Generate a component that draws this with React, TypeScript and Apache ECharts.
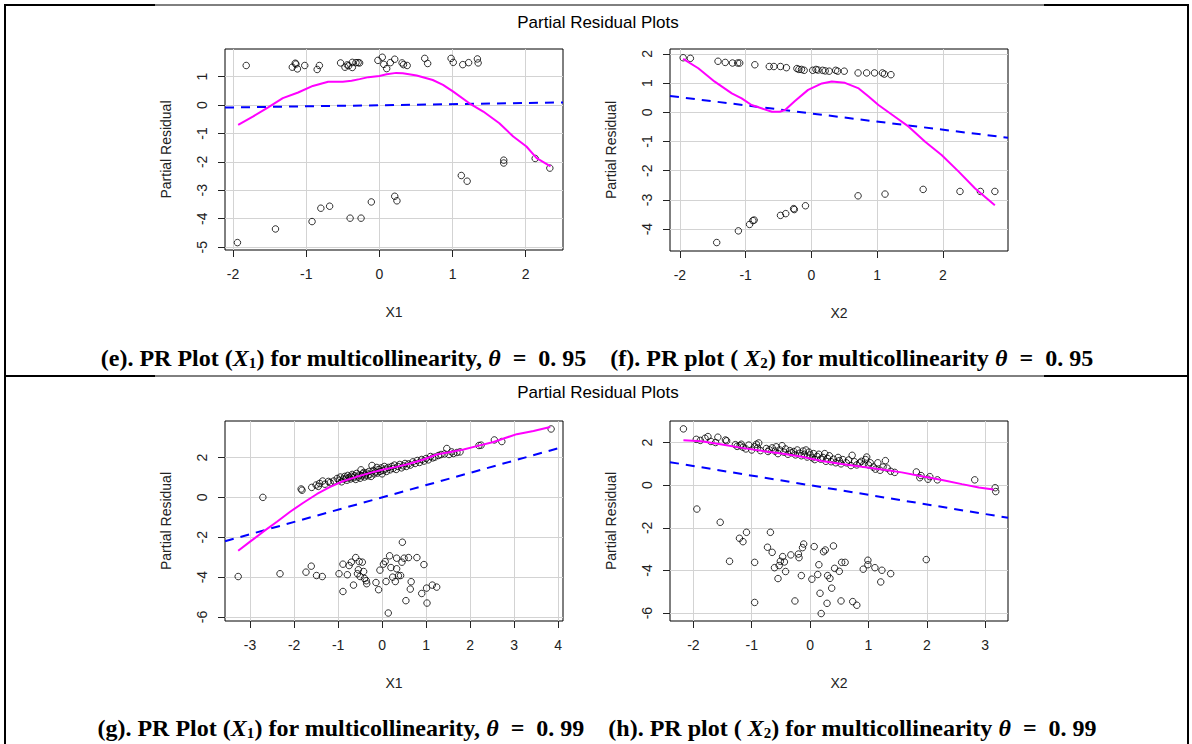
import React, { useEffect, useRef } from "react";
import * as echarts from "echarts";

// ---------- Panel (e): X1, theta = 0.95 ----------
const eXTicks = [-2, -1, 0, 1, 2];
const eYTicks = [-5, -4, -3, -2, -1, 0, 1];
const ePoints: number[][] = [
  [-1.82, 1.39], [-1.19, 1.33], [-1.15, 1.47], [-1.14, 1.44], [-1.12, 1.27], [-1.02, 1.39],
  [-0.85, 1.25], [-0.82, 1.39], [-0.53, 1.48], [-0.47, 1.33], [-0.44, 1.41], [-0.42, 1.38],
  [-0.37, 1.5], [-0.37, 1.32], [-0.32, 1.49], [-0.29, 1.49], [-0.27, 1.48], [-0.02, 1.57],
  [0.04, 1.68], [0.06, 1.43], [0.1, 1.28], [0.15, 1.49], [0.21, 1.61], [0.31, 1.48],
  [0.33, 1.42], [0.38, 1.39], [0.62, 1.64], [0.66, 1.46], [0.98, 1.64], [1.01, 1.5],
  [1.14, 1.42], [1.22, 1.49], [1.34, 1.62], [1.35, 1.48],
  [-1.94, -4.84], [-1.42, -4.36], [-0.92, -4.1], [-0.8, -3.63], [-0.68, -3.56], [-0.4, -3.98],
  [-0.25, -3.98], [-0.11, -3.41], [0.21, -3.21], [0.24, -3.37], [1.12, -2.48], [1.2, -2.68],
  [1.7, -1.94], [1.7, -2.04], [2.13, -1.88], [2.33, -2.22],
];
const eSmooth: number[][] = [
  [-1.93, -0.7], [-1.73, -0.41], [-1.52, -0.08], [-1.32, 0.24], [-1.11, 0.44], [-0.91, 0.67],
  [-0.7, 0.82], [-0.5, 0.82], [-0.38, 0.85], [-0.27, 0.91], [-0.15, 0.98], [0.0, 1.02],
  [0.1, 1.08], [0.23, 1.13], [0.32, 1.12], [0.51, 1.04], [0.73, 0.88], [0.87, 0.71],
  [1.01, 0.47], [1.23, 0.06], [1.42, -0.23], [1.64, -0.64], [1.83, -1.11], [2.01, -1.46],
  [2.15, -1.87], [2.34, -2.16],
];
const eFit: number[][] = [[-2.11, -0.09], [2.51, 0.09]];

// ---------- Panel (f): X2, theta = 0.95 ----------
const fXTicks = [-2, -1, 0, 1, 2];
const fYTicks = [-4, -3, -2, -1, 0, 1, 2];
const fPoints: number[][] = [
  [-1.95, 1.87], [-1.84, 1.85], [-1.42, 1.75], [-1.31, 1.71], [-1.2, 1.69], [-1.12, 1.69],
  [-1.09, 1.69], [-0.86, 1.63], [-0.64, 1.57], [-0.57, 1.57], [-0.47, 1.57], [-0.38, 1.53],
  [-0.22, 1.5], [-0.19, 1.47], [-0.15, 1.47], [-0.11, 1.44], [0.02, 1.44], [0.07, 1.47],
  [0.1, 1.45], [0.17, 1.44], [0.21, 1.42], [0.27, 1.41], [0.37, 1.44], [0.4, 1.41],
  [0.5, 1.41], [0.71, 1.35], [0.84, 1.35], [0.96, 1.35], [1.08, 1.35], [1.11, 1.31], [1.21, 1.29],
  [-1.44, -4.46], [-1.11, -4.06], [-0.94, -3.84], [-0.89, -3.71], [-0.87, -3.69], [-0.47, -3.53],
  [-0.39, -3.47], [-0.27, -3.3], [-0.26, -3.33], [-0.09, -3.2], [0.71, -2.86], [1.12, -2.8],
  [1.7, -2.64], [2.26, -2.71], [2.57, -2.71], [2.79, -2.71],
];
const fSmooth: number[][] = [
  [-1.95, 1.83], [-1.72, 1.51], [-1.47, 1.05], [-1.21, 0.65], [-1.06, 0.48], [-0.91, 0.25],
  [-0.76, 0.14], [-0.6, 0.02], [-0.48, 0.02], [-0.4, 0.08], [-0.25, 0.39], [-0.05, 0.77],
  [0.16, 0.99], [0.31, 1.06], [0.51, 1.01], [0.72, 0.82], [0.87, 0.54], [1.02, 0.25],
  [1.27, -0.15], [1.48, -0.49], [1.73, -1.01], [1.98, -1.46], [2.24, -2.03], [2.49, -2.61],
  [2.79, -3.18],
];
const fFit: number[][] = [[-2.15, 0.56], [2.99, -0.87]];

// ---------- Panel (g): X1, theta = 0.99 ----------
const gXTicks = [-3, -2, -1, 0, 1, 2, 3, 4];
const gYTicks = [-6, -4, -2, 0, 2];
const gPoints: number[][] = [
  [-1.84, 0.42], [-1.82, 0.36], [-1.6, 0.5], [-1.5, 0.62], [-1.45, 0.55], [-1.42, 0.7],
  [-1.35, 0.82], [-1.3, 0.66], [-1.22, 0.8], [-1.18, 0.74], [-1.1, 0.82], [-1.02, 0.95],
  [-0.98, 0.86], [-0.95, 1.02], [-0.92, 0.78], [-0.88, 0.92], [-0.85, 1.05], [-0.82, 0.96],
  [-0.8, 0.86], [-0.78, 1.1], [-0.75, 1.0], [-0.72, 0.92], [-0.7, 1.06], [-0.68, 1.15],
  [-0.65, 0.98], [-0.62, 1.08], [-0.6, 0.9], [-0.58, 1.2], [-0.55, 1.02], [-0.52, 1.12],
  [-0.5, 0.96], [-0.48, 1.38], [-0.46, 1.08], [-0.44, 1.18], [-0.42, 1.25], [-0.4, 1.02],
  [-0.38, 1.12], [-0.35, 1.22], [-0.32, 1.08], [-0.3, 1.3], [-0.28, 1.16], [-0.25, 1.05],
  [-0.23, 1.6], [-0.2, 1.35], [-0.18, 1.18], [-0.15, 1.28], [-0.12, 1.5], [-0.1, 1.22],
  [-0.08, 1.4], [-0.05, 1.3], [-0.02, 1.48], [0.0, 1.18], [0.02, 1.35], [0.05, 1.55],
  [0.08, 1.42], [0.1, 1.3], [0.14, 1.5], [0.18, 1.38], [0.22, 1.55], [0.25, 1.45],
  [0.28, 1.62], [0.32, 1.4], [0.36, 1.55], [0.4, 1.65], [0.44, 1.48], [0.48, 1.58],
  [0.52, 1.7], [0.55, 1.55], [0.6, 1.68], [0.64, 1.62], [0.7, 1.78], [0.75, 1.7],
  [0.8, 1.85], [0.85, 1.75], [0.9, 1.9], [0.95, 1.82], [1.0, 1.95], [1.05, 1.88],
  [1.1, 2.05], [1.15, 1.98], [1.2, 2.02], [1.28, 2.1], [1.34, 2.15], [1.42, 2.18],
  [1.47, 2.45], [1.52, 2.15], [1.58, 2.28], [1.62, 2.2], [1.7, 2.25], [1.77, 2.28],
  [2.2, 2.6], [2.25, 2.62], [2.55, 2.88], [2.72, 2.8], [3.84, 3.43],
  [-3.27, -3.97], [-2.71, 0.0], [-2.32, -3.83], [-1.73, -3.75], [-1.61, -3.45], [-1.49, -3.92],
  [-1.36, -3.97], [-0.98, -3.83], [-0.89, -3.35], [-0.89, -4.72], [-0.79, -3.88], [-0.75, -3.42],
  [-0.7, -3.25], [-0.65, -4.4], [-0.6, -3.02], [-0.56, -3.83], [-0.54, -3.63], [-0.52, -3.22],
  [-0.5, -3.97], [-0.45, -3.25], [-0.42, -3.72], [-0.4, -4.07], [-0.36, -4.18], [-0.35, -4.33],
  [-0.14, -4.27], [-0.08, -4.63], [-0.05, -3.65], [0.03, -3.35], [0.07, -3.22], [0.09, -4.22],
  [0.14, -5.8], [0.17, -2.93], [0.2, -3.52], [0.24, -4.0], [0.3, -4.22], [0.33, -3.05],
  [0.33, -3.58], [0.37, -3.93], [0.42, -3.92], [0.45, -3.25], [0.46, -2.25], [0.5, -3.05],
  [0.54, -5.18], [0.6, -3.02], [0.64, -4.6], [0.66, -4.23], [0.79, -3.02], [0.9, -4.82],
  [0.95, -3.37], [1.01, -4.55], [1.02, -5.3], [1.14, -4.4], [1.24, -4.5],
];
const gSmooth: number[][] = [
  [-3.27, -2.68], [-3.0, -2.22], [-2.7, -1.72], [-2.39, -1.22], [-2.09, -0.72], [-1.79, -0.27],
  [-1.48, 0.17], [-1.18, 0.53], [-0.88, 0.82], [-0.58, 1.03], [-0.27, 1.23], [0.03, 1.4],
  [0.33, 1.53], [0.64, 1.7], [0.94, 1.9], [1.24, 2.15], [1.55, 2.28], [1.85, 2.4],
  [2.15, 2.57], [2.53, 2.78], [3.06, 3.17], [3.44, 3.33], [3.82, 3.53],
];
const gFit: number[][] = [[-3.57, -2.2], [4.11, 2.53]];

// ---------- Panel (h): X2, theta = 0.99 ----------
const hXTicks = [-2, -1, 0, 1, 2, 3];
const hYTicks = [-6, -4, -2, 0, 2];
const hPoints: number[][] = [
  [-2.17, 2.64], [-1.95, 2.15], [-1.88, 2.1], [-1.8, 2.2], [-1.75, 2.28], [-1.7, 2.05],
  [-1.62, 2.0], [-1.58, 2.25], [-1.45, 2.12], [-1.43, 2.08], [-1.28, 1.9], [-1.25, 1.82],
  [-1.2, 1.85], [-1.18, 1.92], [-1.15, 1.78], [-1.1, 1.7], [-1.05, 1.88], [-1.0, 1.65],
  [-0.95, 1.8], [-0.92, 1.92], [-0.9, 1.75], [-0.88, 1.98], [-0.85, 1.62], [-0.75, 1.72],
  [-0.72, 1.58], [-0.7, 1.66], [-0.65, 1.75], [-0.6, 1.6], [-0.58, 1.8], [-0.55, 1.48],
  [-0.52, 1.65], [-0.48, 1.85], [-0.45, 1.55], [-0.42, 1.7], [-0.38, 1.45], [-0.35, 1.62],
  [-0.32, 1.52], [-0.28, 1.58], [-0.25, 1.42], [-0.22, 1.65], [-0.18, 1.5], [-0.15, 1.38],
  [-0.12, 1.6], [-0.1, 1.45], [-0.07, 1.65], [-0.05, 1.32], [-0.02, 1.55], [0.0, 1.42],
  [0.04, 1.28], [0.06, 1.48], [0.08, 1.2], [0.12, 1.35], [0.15, 1.45], [0.18, 1.22],
  [0.22, 1.3], [0.25, 1.48], [0.27, 1.12], [0.3, 1.25], [0.33, 1.38], [0.36, 1.1],
  [0.4, 1.22], [0.44, 1.05], [0.48, 1.3], [0.5, 1.15], [0.53, 1.0], [0.56, 1.2],
  [0.62, 1.05], [0.66, 1.18], [0.7, 0.92], [0.72, 1.4], [0.76, 1.1], [0.8, 0.95],
  [0.85, 1.05], [0.88, 1.12], [0.92, 0.98], [0.95, 1.2], [0.97, 1.32], [1.0, 0.95],
  [1.03, 1.05], [1.08, 0.85], [1.12, 0.75], [1.16, 1.05], [1.2, 0.7], [1.25, 0.85],
  [1.29, 1.15], [1.32, 0.8], [1.38, 0.65], [1.45, 0.6], [1.82, 0.62], [1.88, 0.35],
  [1.9, 0.45], [2.02, 0.28], [2.05, 0.4], [2.18, 0.25], [2.82, 0.25], [3.17, -0.12], [3.18, -0.3],
  [-1.94, -1.12], [-1.54, -1.74], [-1.38, -3.57], [-1.21, -2.49], [-1.15, -2.65], [-1.09, -2.21],
  [-0.95, -3.62], [-0.95, -5.5], [-0.73, -2.91], [-0.68, -2.21], [-0.65, -3.15], [-0.61, -3.87],
  [-0.55, -4.38], [-0.53, -3.77], [-0.51, -3.57], [-0.47, -3.35], [-0.44, -3.6], [-0.42, -4.05],
  [-0.33, -3.27], [-0.26, -5.43], [-0.2, -3.23], [-0.19, -3.4], [-0.15, -4.24], [-0.13, -2.93],
  [-0.11, -2.76], [0.03, -4.41], [0.07, -2.88], [0.13, -4.19], [0.15, -3.73], [0.17, -5.07],
  [0.19, -6.02], [0.23, -3.12], [0.26, -3.04], [0.29, -5.54], [0.3, -4.24], [0.34, -4.37],
  [0.37, -4.83], [0.4, -2.85], [0.42, -3.9], [0.5, -4.04], [0.53, -5.43], [0.54, -3.62],
  [0.6, -3.62], [0.73, -5.46], [0.8, -5.63], [0.91, -3.94], [0.99, -3.52], [0.99, -3.73],
  [1.11, -3.87], [1.21, -4.54], [1.23, -3.99], [1.38, -4.15], [1.99, -3.49],
];
const hSmooth: number[][] = [
  [-2.17, 2.11], [-1.86, 2.06], [-1.51, 1.91], [-1.17, 1.75], [-0.83, 1.61], [-0.49, 1.49],
  [-0.14, 1.33], [0.2, 1.13], [0.54, 0.99], [0.89, 0.86], [1.23, 0.74], [1.57, 0.6],
  [1.91, 0.42], [2.26, 0.24], [2.6, 0.05], [2.89, -0.11], [3.14, -0.2],
];
const hFit: number[][] = [[-2.4, 1.08], [3.39, -1.53]];

const SANS = "Liberation Sans, Arial, sans-serif";
const SERIF = "Liberation Serif, Times New Roman, serif";

type PanelDef = {
  box: { left: number; top: number; width: number; height: number };
  xRange: [number, number];
  yRange: [number, number];
  xTicks: number[];
  yTicks: number[];
  xName: string;
  points: number[][];
  smooth: number[][];
  fit: number[][];
};

const panels: PanelDef[] = [
  { box: { left: 225, top: 49, width: 338, height: 201 }, xRange: [-2.11, 2.51], yRange: [-5.1, 1.97], xTicks: eXTicks, yTicks: eYTicks, xName: "X1", points: ePoints, smooth: eSmooth, fit: eFit },
  { box: { left: 670, top: 49, width: 338, height: 202 }, xRange: [-2.15, 2.99], yRange: [-4.75, 2.17], xTicks: fXTicks, yTicks: fYTicks, xName: "X2", points: fPoints, smooth: fSmooth, fit: fFit },
  { box: { left: 225, top: 421, width: 338, height: 200 }, xRange: [-3.57, 4.11], yRange: [-6.2, 3.83], xTicks: gXTicks, yTicks: gYTicks, xName: "X1", points: gPoints, smooth: gSmooth, fit: gFit },
  { box: { left: 670, top: 421, width: 338, height: 200 }, xRange: [-2.4, 3.39], yRange: [-6.37, 3.01], xTicks: hXTicks, yTicks: hYTicks, xName: "X2", points: hPoints, smooth: hSmooth, fit: hFit },
];

function buildOption() {
  const grid: any[] = [];
  const xAxis: any[] = [];
  const yAxis: any[] = [];
  const series: any[] = [];
  panels.forEach((p, i) => {
    grid.push({
      ...p.box,
      show: true,
      borderColor: "#000",
      borderWidth: 1,
      backgroundColor: "transparent",
      outerBoundsMode: "none",
    });
    xAxis.push({
      type: "value",
      gridIndex: i,
      position: "bottom",
      min: p.xRange[0],
      max: p.xRange[1],
      name: p.xName,
      nameLocation: "middle",
      nameGap: 55,
      nameTextStyle: { fontFamily: SANS, fontSize: 14, color: "#222" },
      axisLine: { show: false, onZero: false },
      axisTick: { show: true, length: 7, customValues: p.xTicks, lineStyle: { color: "#222" } },
      axisLabel: { customValues: p.xTicks, fontFamily: SANS, fontSize: 14, color: "#222", margin: 17 },
      splitLine: { show: true, lineStyle: { color: "#d3d3d3", width: 1 } },
    });
    yAxis.push({
      type: "value",
      gridIndex: i,
      position: "left",
      min: p.yRange[0],
      max: p.yRange[1],
      name: "Partial Residual",
      nameLocation: "middle",
      nameGap: 52,
      nameRotate: 90,
      nameTextStyle: { fontFamily: SANS, fontSize: 14, color: "#222" },
      axisLine: { show: false, onZero: false },
      axisTick: { show: true, length: 7, customValues: p.yTicks, lineStyle: { color: "#222" } },
      axisLabel: { customValues: p.yTicks, rotate: 90, fontFamily: SANS, fontSize: 14, color: "#222", margin: 16 },
      splitLine: { show: true, lineStyle: { color: "#d3d3d3", width: 1 } },
    });
    series.push({
      type: "scatter",
      xAxisIndex: i,
      yAxisIndex: i,
      data: p.points,
      symbol: "circle",
      symbolSize: 6.5,
      silent: true,
      z: 3,
      itemStyle: { color: "rgba(0,0,0,0)", borderColor: "#000", borderWidth: 1 },
    });
    series.push({
      type: "line",
      xAxisIndex: i,
      yAxisIndex: i,
      data: p.fit,
      showSymbol: false,
      silent: true,
      z: 4,
      lineStyle: { color: "#0000ff", width: 2, type: [9, 7] },
    });
    series.push({
      type: "line",
      xAxisIndex: i,
      yAxisIndex: i,
      data: p.smooth,
      showSymbol: false,
      silent: true,
      z: 5,
      lineStyle: { color: "#ff00ff", width: 2 },
    });
  });

  const richBase = { fontFamily: SERIF, fontWeight: "bold", fontSize: 24, color: "#000" };
  const rich = {
    b: { ...richBase },
    m: { ...richBase, fontStyle: "italic" },
    s: { ...richBase, fontSize: 15, verticalAlign: "bottom" },
  };
  const cap = (a: string, b: string, theta: string) =>
    `{b|(${a}). PR Plot (}{m|X}{s|1}{b|) for multicollinearity, }{m|θ}{b|  =  ${theta}    (${b}). PR plot ( }{m|X}{s|2}{b|) for multicollinearity }{m|θ}{b|  =  ${theta}}`;

  const frame = (y: number) => [
    { type: "line", shape: { x1: 4, y1: y, x2: 155, y2: y }, style: { stroke: "#000", lineWidth: 2 } },
    { type: "line", shape: { x1: 155, y1: y, x2: 1044, y2: y }, style: { stroke: "#000", lineWidth: 1 } },
    { type: "line", shape: { x1: 1044, y1: y, x2: 1189, y2: y }, style: { stroke: "#000", lineWidth: 2 } },
  ];

  const graphic: any[] = [
    ...frame(5),
    ...frame(376),
    { type: "line", shape: { x1: 5, y1: 4, x2: 5, y2: 744 }, style: { stroke: "#000", lineWidth: 2 } },
    { type: "line", shape: { x1: 1188, y1: 4, x2: 1188, y2: 744 }, style: { stroke: "#000", lineWidth: 2 } },
    { type: "text", x: 598, y: 22, style: { text: "Partial Residual Plots", font: `17px ${SANS}`, fill: "#000", align: "center", verticalAlign: "middle" } },
    { type: "text", x: 598, y: 392, style: { text: "Partial Residual Plots", font: `17px ${SANS}`, fill: "#000", align: "center", verticalAlign: "middle" } },
    { type: "text", x: 597, y: 358, style: { text: cap("e", "f", "0. 95"), rich, align: "center", verticalAlign: "middle" } },
    { type: "text", x: 597, y: 728, style: { text: cap("g", "h", "0. 99"), rich, align: "center", verticalAlign: "middle" } },
  ];

  return { animation: false, backgroundColor: "#fff", grid, xAxis, yAxis, series, graphic };
}

export default function App() {
  const ref = useRef<HTMLDivElement>(null);
  useEffect(() => {
    document.body.style.margin = "0";
    if (!ref.current) return;
    const chart = echarts.init(ref.current, undefined, { renderer: "svg" });
    chart.setOption(buildOption() as any);
    return () => chart.dispose();
  }, []);
  return <div ref={ref} style={{ width: 1192, height: 744, position: "absolute", left: 0, top: 0 }} />;
}
